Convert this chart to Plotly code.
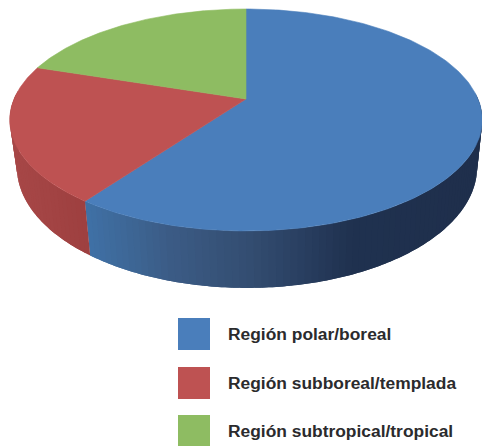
import numpy as np
import plotly.graph_objects as go

# Share of each region, clockwise from twelve o'clock
categories = ["Región polar/boreal", "Región subboreal/templada", "Región subtropical/tropical"]
shares = [60, 20, 20]
top_colors = ["#4A7EBB", "#BE5252", "#8EBC62"]

# Shading of the wall: horizontal position -> RGB, one table per category
wall_x = [[88, 130, 170, 247, 300, 350, 482], [10, 90], [10, 90]]
wall_rgb = [
    [(64, 113, 166), (62, 103, 150), (60, 92, 134), (52, 78, 114), (42, 64, 98), (32, 50, 80), (31, 47, 76)],
    [(168, 72, 72), (158, 64, 64)],
    [(120, 150, 80), (120, 150, 80)],
]

# Perspective of the disc: rim of the top face and of the bottom face
TILT = 0.189
TOP = dict(x0=246.0, y0=99.0, ax=232.0, ay=107.0)
BOTTOM = dict(x0=247.0, y0=144.0, ax=226.0, ay=116.7)


def rim(angle, ring):
    """Project a clockwise angle (radians from north) onto a rim of the disc."""
    u, v = np.sin(angle), np.cos(angle)
    w = 1 + TILT * v
    return ring["x0"] + ring["ax"] * u / w, ring["y0"] - ring["ay"] * v / w


fig = go.Figure()
edges = np.radians(np.cumsum([0] + shares) / sum(shares) * 360)

# Side wall: narrow strips painted in order, each one running under the next,
# so the shading follows the rim without gaps between neighbours
for i, name in enumerate(categories):
    a0, a1 = edges[i], edges[i + 1]
    steps = max(2, int(np.degrees(a1 - a0) / 1.5))
    grid = np.linspace(a0, a1, steps + 1)
    step = grid[1] - grid[0]
    for s0 in grid[:-1]:
        if np.cos(s0 + step / 2) > 0.05:
            continue
        s1 = min(s0 + 2 * step, a1)
        arc = np.linspace(s0, s1, 5)
        xa, ya = rim(arc, TOP)
        xb, yb = rim(arc[::-1], BOTTOM)
        mid = (rim(s0 + step / 2, TOP)[0] + rim(s0 + step / 2, BOTTOM)[0]) / 2
        rgb = [np.interp(mid, wall_x[i], [c[k] for c in wall_rgb[i]]) for k in range(3)]
        color = "rgb(%d,%d,%d)" % tuple(rgb)
        fig.add_trace(go.Scatter(
            x=np.r_[xa, xb, xa[0]], y=np.r_[ya, yb, ya[0]],
            mode="none", fill="toself", fillcolor=color,
            hoverinfo="skip", showlegend=False,
        ))

# Top face, one wedge per category
for i, name in enumerate(categories):
    arc = np.linspace(edges[i], edges[i + 1], 200)
    xs, ys = rim(arc, TOP)
    fig.add_trace(go.Scatter(
        x=np.r_[TOP["x0"], xs, TOP["x0"]], y=np.r_[TOP["y0"], ys, TOP["y0"]],
        mode="lines", fill="toself", fillcolor=top_colors[i],
        line=dict(color=top_colors[i], width=0.6), name=name, showlegend=False,
    ))

# Key below the disc
key_y = [334, 383, 431]
for i, name in enumerate(categories):
    fig.add_trace(go.Scatter(
        x=[194], y=[key_y[i]], mode="markers",
        marker=dict(symbol="square", size=32, color=top_colors[i], line=dict(width=0)),
        hoverinfo="skip", showlegend=False,
    ))
    fig.add_trace(go.Scatter(
        x=[228], y=[key_y[i] + 2], mode="text", text=[name], textposition="middle right",
        textfont=dict(family="Liberation Sans", size=17.4, color="#2B2B2D", weight="bold"),
        hoverinfo="skip", showlegend=False,
    ))

fig.update_layout(
    width=482, height=446, margin=dict(l=0, r=0, t=0, b=0),
    paper_bgcolor="white", plot_bgcolor="white",
    xaxis=dict(range=[0, 482], visible=False, fixedrange=True),
    yaxis=dict(range=[446, 0], visible=False, fixedrange=True),
)
fig.write_html("out.html", config={"displayModeBar": False})
